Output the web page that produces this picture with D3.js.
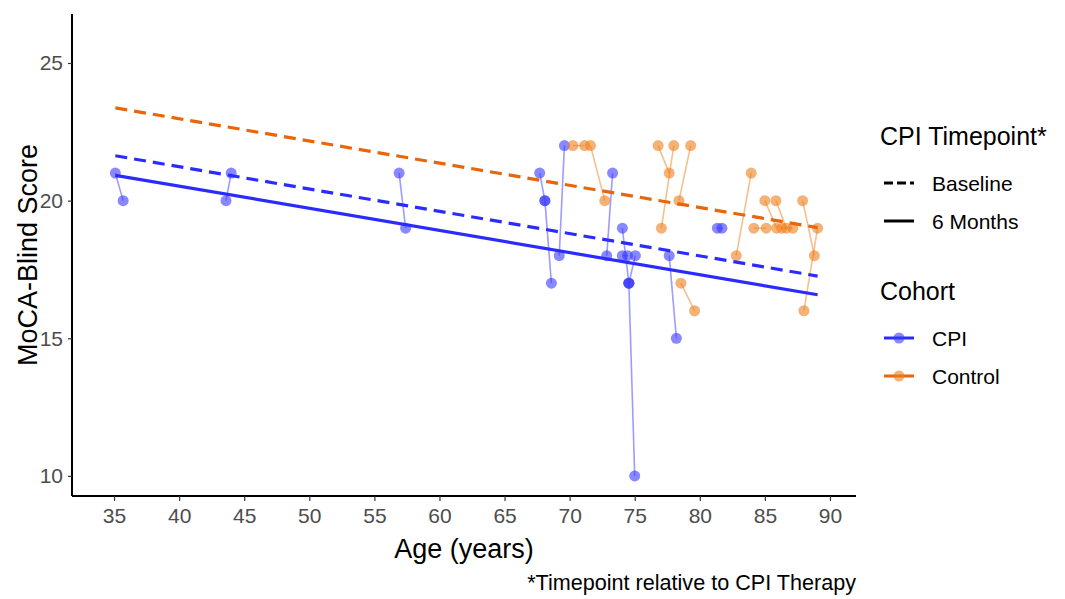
<!DOCTYPE html>
<html lang="en">
<head>
  <meta charset="UTF-8">
  <title>MoCA-Blind Score by Age</title>
  <style>
    body { margin: 0; background: white; }
    text { font-family: 'Liberation Sans', Arial, sans-serif; }
  </style>
</head>
<body>
  <svg id="svg" width="1065" height="599"></svg>
  <script src="https://d3js.org/d3.v7.min.js"></script>
  <script>
    // CPI patients: baseline and 6 month (age, score)
    const cpiBaseAge   = [35.1, 43.6, 56.9, 67.7, 68.1, 69.2, 72.85, 74.05, 74.05, 74.55, 74.55, 77.65, 81.35]
    const cpiBaseScore = [21, 20, 21, 21, 20, 18, 18, 18, 19, 17, 17, 18, 19]
    const cpiSixAge    = [35.7, 44.0, 57.4, 68.1, 68.6, 69.6, 73.3, 74.45, 74.55, 75.05, 75.0, 78.2, 81.7]
    const cpiSixScore  = [20, 21, 19, 20, 17, 22, 21, 18, 17, 18, 10, 15, 19]

    // Control patients
    const ctlBaseAge   = [70.25, 71.6, 76.8, 77.05, 78.4, 78.55, 82.8, 85.0, 85.85, 87.9, 88.0, 84.15, 86.3]
    const ctlBaseScore = [22, 22, 22, 19, 20, 17, 18, 20, 20, 20, 16, 19, 19]
    const ctlSixAge    = [71.15, 72.7, 77.65, 78.0, 79.3, 79.6, 83.95, 85.9, 86.65, 88.8, 89.05, 85.1, 87.15]
    const ctlSixScore  = [22, 20, 21, 22, 22, 16, 21, 19, 19, 18, 19, 19, 19]

    // fitted trend lines (score at start and end of the age range)
    const trendCohort    = ['Control', 'CPI', 'CPI']
    const trendTimepoint = ['Baseline', 'Baseline', '6 Months']
    const trendStart     = [23.37, 21.63, 20.92]
    const trendEnd       = [19.02, 17.26, 16.58]

    const xTicks = [35, 40, 45, 50, 55, 60, 65, 70, 75, 80, 85, 90]
    const yTicks = [10, 15, 20, 25]

    const cohorts = ['CPI', 'Control']
    const timepoints = ['Baseline', '6 Months']

    const lineColor = d3.scaleOrdinal().domain(cohorts).range(['#2b2bff', '#e8650a'])
    const pointColor = d3.scaleOrdinal().domain(cohorts).range(['#3a3aff', '#ee7f1c'])
    const dashScale = d3.scaleOrdinal().domain(timepoints).range(['12,7', null])

    const plotLeft = 72, plotRight = 856, plotTop = 14, plotBottom = 496

    const xScale = d3.scaleLinear().domain([31.77, 92.0]).range([plotLeft, plotRight])
    const yScale = d3.scaleLinear().domain([9.27, 26.78]).range([plotBottom, plotTop])

    const pairs = []
    cpiBaseAge.forEach((a, i) => pairs.push({cohort: 'CPI', a0: a, s0: cpiBaseScore[i], a1: cpiSixAge[i], s1: cpiSixScore[i]}))
    ctlBaseAge.forEach((a, i) => pairs.push({cohort: 'Control', a0: a, s0: ctlBaseScore[i], a1: ctlSixAge[i], s1: ctlSixScore[i]}))
    const points = []
    pairs.forEach(p => {
      points.push({cohort: p.cohort, age: p.a0, score: p.s0})
      points.push({cohort: p.cohort, age: p.a1, score: p.s1})
    })
    const ageExtent = d3.extent(points, d => d.age)

    const svg = d3.select('#svg')

    // patient connecting lines
    svg.append('g')
      .selectAll('line')
      .data(pairs)
      .enter()
      .append('line')
      .attr('x1', d => xScale(d.a0))
      .attr('y1', d => yScale(d.s0))
      .attr('x2', d => xScale(d.a1))
      .attr('y2', d => yScale(d.s1))
      .attr('stroke', d => pointColor(d.cohort))
      .attr('stroke-opacity', 0.5)
      .attr('stroke-width', 1.6)

    svg.append('g')
      .selectAll('circle')
      .data(points)
      .enter()
      .append('circle')
      .attr('cx', d => xScale(d.age))
      .attr('cy', d => yScale(d.score))
      .attr('r', 5.5)
      .attr('fill', d => pointColor(d.cohort))
      .attr('fill-opacity', 0.6)

    // trend lines
    svg.append('g')
      .selectAll('line')
      .data(trendCohort)
      .enter()
      .append('line')
      .attr('x1', xScale(ageExtent[0]))
      .attr('x2', xScale(ageExtent[1]))
      .attr('y1', (d, i) => yScale(trendStart[i]))
      .attr('y2', (d, i) => yScale(trendEnd[i]))
      .attr('stroke', d => lineColor(d))
      .attr('stroke-width', 3.2)
      .attr('stroke-dasharray', (d, i) => dashScale(trendTimepoint[i]))

    // axes
    const bottomAxis = d3.axisBottom(xScale).tickValues(xTicks).tickSize(5).tickPadding(7)
    const leftAxis = d3.axisLeft(yScale).tickValues(yTicks).tickSize(4).tickPadding(5)

    const gx = svg.append('g')
      .attr('transform', `translate(0, ${plotBottom})`)
      .call(bottomAxis)
    const gy = svg.append('g')
      .attr('transform', `translate(${plotLeft}, 0)`)
      .call(leftAxis)
    ;[gx, gy].forEach(g => {
      g.select('.domain').attr('stroke', '#000').attr('stroke-width', 2)
      g.selectAll('.tick line').attr('stroke', '#333').attr('stroke-width', 1.2)
      g.selectAll('.tick text')
        .attr('fill', '#4d4d4d')
        .style('font-size', '21px')
        .style('font-family', "'Liberation Sans', Arial, sans-serif")
    })
    gx.select('.domain').attr('d', `M${plotLeft},0H${plotRight}`)
    gy.select('.domain').attr('d', `M0,${plotTop}V${plotBottom}`)

    svg.append('text')
      .text('Age (years)')
      .attr('x', (plotLeft + plotRight) / 2)
      .attr('y', 558)
      .attr('text-anchor', 'middle')
      .style('font-size', '27px')

    svg.append('text')
      .text('MoCA-Blind Score')
      .attr('transform', `translate(37, ${(plotTop + plotBottom) / 2}) rotate(-90)`)
      .attr('text-anchor', 'middle')
      .style('font-size', '27px')

    svg.append('text')
      .text('*Timepoint relative to CPI Therapy')
      .attr('x', plotRight)
      .attr('y', 590)
      .attr('text-anchor', 'end')
      .style('font-size', '21.6px')

    // legend: timepoint
    const lg = svg.append('g').attr('transform', 'translate(880, 0)')
    lg.append('text').text('CPI Timepoint*').attr('x', 0).attr('y', 145).style('font-size', '25px')
    lg.selectAll('.tp')
      .data(timepoints)
      .enter()
      .append('g')
      .each(function (d, i) {
        const g = d3.select(this)
        const cy = 183 + i * 38
        g.append('line')
          .attr('x1', 4).attr('x2', 34)
          .attr('y1', cy).attr('y2', cy)
          .attr('stroke', '#000')
          .attr('stroke-width', 3)
          .attr('stroke-dasharray', dashScale(d) ? '9,4' : null)
        g.append('text').text(d).attr('x', 52).attr('y', cy + 8).style('font-size', '21px')
      })

    // legend: cohort
    lg.append('text').text('Cohort').attr('x', 0).attr('y', 300).style('font-size', '25px')
    lg.selectAll('.co')
      .data(cohorts)
      .enter()
      .append('g')
      .each(function (d, i) {
        const g = d3.select(this)
        const cy = 338 + i * 38
        g.append('line')
          .attr('x1', 4).attr('x2', 34)
          .attr('y1', cy).attr('y2', cy)
          .attr('stroke', lineColor(d))
          .attr('stroke-width', 3)
        g.append('circle')
          .attr('cx', 19).attr('cy', cy).attr('r', 5.5)
          .attr('fill', pointColor(d))
          .attr('fill-opacity', 0.6)
        g.append('text').text(d).attr('x', 52).attr('y', cy + 8).style('font-size', '21px')
      })
  </script>
</body>
</html>
